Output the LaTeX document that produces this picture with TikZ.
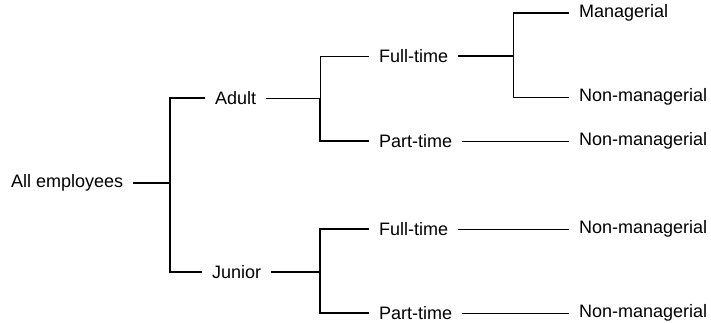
\documentclass[tikz,border=0pt]{standalone}
\usepackage{fontspec}
\setmainfont{Liberation Sans}
\begin{document}
\begin{tikzpicture}[x=1bp,y=1bp,
  lbl/.style={anchor=west,inner xsep=10bp,inner ysep=0pt,font=\fontsize{18bp}{20bp}\selectfont},
  thickln/.style={line width=1.8bp},
  thinln/.style={line width=0.9bp}]
\useasboundingbox (0,0) rectangle (711,-323);
\node[lbl] (all) at (1,-183) {All employees};
\coordinate (j0) at (170,-183);
\node[lbl] (adult) at (205,-98) {Adult};
\node[lbl] (junior) at (202,-272) {Junior};
\coordinate (j1) at (320,-98);
\coordinate (j2) at (320,-272);
\node[lbl] (ft1) at (369,-56) {Full-time};
\node[lbl] (pt1) at (369,-141) {Part-time};
\node[lbl] (ft2) at (369,-229) {Full-time};
\node[lbl] (pt2) at (369,-313) {Part-time};
\coordinate (j3) at (513,-56);
\node[lbl] (m1) at (569,-13) {Managerial};
\node[lbl] (n1) at (569,-97) {Non-managerial};
\node[lbl] (n2) at (569,-141) {Non-managerial};
\node[lbl] (n3) at (569,-229) {Non-managerial};
\node[lbl] (n4) at (569,-313) {Non-managerial};
% level 1
\draw[thickln] (all.east) -- (j0);
\draw[thickln] (adult.west) -| (j0);
\draw[thickln] (junior.west) -| (j0);
% level 2
\draw[thinln] (adult.east) -- (j1);
\draw[thinln] (ft1.west) -| (j1);
\draw[thickln] (pt1.west) -| (j1);
\draw[thickln] (junior.east) -- (j2);
\draw[thickln] (ft2.west) -| (j2);
\draw[thickln] (pt2.west) -| (j2);
% level 3
\draw[thickln] (ft1.east) -- (j3);
\draw[thickln] (m1.west) -- (m1.west -| j3);
\draw[thinln] (m1.west -| j3) -- (j3);
\draw[thinln] (n1.west) -| (j3);
\draw[thinln] (pt1.east) -- (n2.west);
\draw[thinln] (ft2.east) -- (n3.west);
\draw[thinln] (pt2.east) -- (n4.west);
\end{tikzpicture}
\end{document}
